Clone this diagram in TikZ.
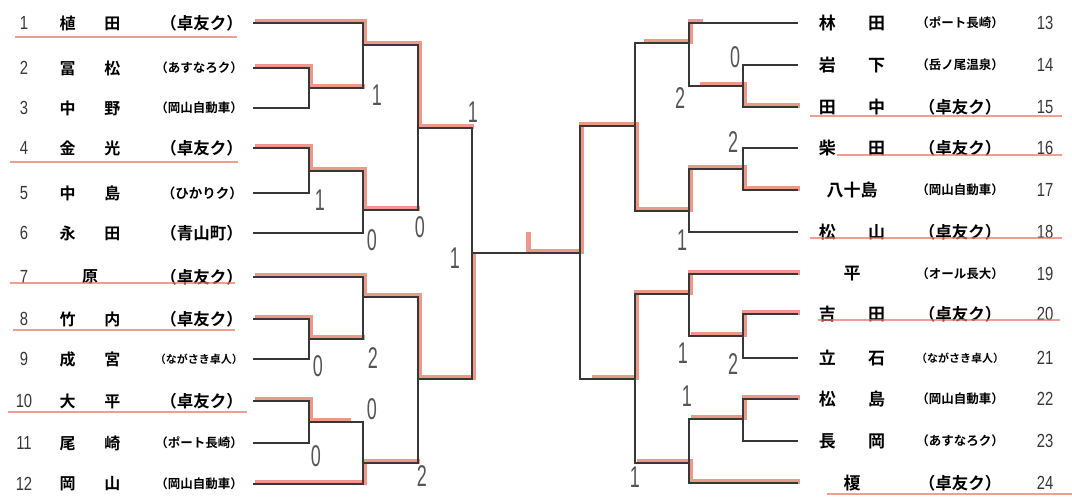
\documentclass[tikz,border=0pt]{standalone}
\usepackage{fontspec}
\usepackage{tikz}
\usetikzlibrary{calc}
\setmainfont{Noto Sans CJK JP}[BoldFont={Noto Sans CJK JP Bold}]
\newfontfamily\seedfont[FakeStretch=0.78]{Liberation Sans}
\newfontfamily\scorefont[FakeStretch=0.6]{Liberation Sans}
\definecolor{ink}{RGB}{55,55,55}
\definecolor{marker}{RGB}{232,118,98}

\begin{document}
\begin{tikzpicture}[x=1pt,y=-1pt,
  wire/.style={draw=ink,line width=1.1pt},
  win/.style={draw=marker,line width=5pt,opacity=.75,transform canvas={xshift=1.5pt,yshift=1.5pt}},
  uline/.style={draw=marker,line width=1.6pt,opacity=.7},
  seed/.style={font=\seedfont\fontsize{19}{19}\selectfont,text=ink,inner sep=0pt},
  player/.style={font=\bfseries\fontsize{16}{16}\selectfont,inner sep=0pt},
  rplayer/.style={font=\bfseries\fontsize{17}{17}\selectfont,inner sep=0pt},
  club/.style={font=\bfseries\fontsize{16.5}{16.5}\selectfont,inner sep=0pt},
  midclub/.style={font=\bfseries\fontsize{13.5}{13.5}\selectfont,inner sep=0pt},
  smallclub/.style={font=\bfseries\fontsize{12.5}{12.5}\selectfont,inner sep=0pt},
  tinyclub/.style={font=\bfseries\fontsize{11}{11}\selectfont,inner sep=0pt},
  score/.style={font=\scorefont\fontsize{30}{30}\selectfont,text=ink!85,inner sep=0pt}]
  \useasboundingbox (0,0) rectangle (1072,496);

  \foreach \i/\y/\nm/\cl/\sty in {
    1/23/{植\hspace{1.8em}田}/{（卓友ク）}/club,
    2/68/{冨\hspace{1.8em}松}/{（あすなろク）}/smallclub,
    3/108/{中\hspace{1.8em}野}/{（岡山自動車）}/smallclub,
    4/148/{金\hspace{1.8em}光}/{（卓友ク）}/club,
    5/193/{中\hspace{1.8em}島}/{（ひかりク）}/midclub,
    6/233/{永\hspace{1.8em}田}/{（青山町）}/club,
    7/277/{原}/{（卓友ク）}/club,
    8/319/{竹\hspace{1.8em}内}/{（卓友ク）}/club,
    9/359/{成\hspace{1.8em}宮}/{（ながさき卓人）}/tinyclub,
    10/401/{大\hspace{1.8em}平}/{（卓友ク）}/club,
    11/443/{尾\hspace{1.8em}崎}/{（ポート長崎）}/smallclub,
    12/484/{岡\hspace{1.8em}山}/{（岡山自動車）}/smallclub} {
    \node[seed] (n\i) at (24,\y) {\i};
    \node[player] (p\i) at (90,\y) {\nm};
    \node[\sty,anchor=east] (c\i) at (243,\y) {\cl};
    \coordinate (l\i) at (253,\y);
  }
  \foreach \i/\y/\nm/\cl/\sty in {
    13/23/{林\hspace{1.9em}田}/{（ポート長崎）}/smallclub,
    14/65/{岩\hspace{1.9em}下}/{（岳ノ尾温泉）}/smallclub,
    15/107/{田\hspace{1.9em}中}/{（卓友ク）}/club,
    16/148/{柴\hspace{1.9em}田}/{（卓友ク）}/club,
    17/190/{八十島}/{（岡山自動車）}/smallclub,
    18/232/{松\hspace{1.9em}山}/{（卓友ク）}/club,
    19/274/{平}/{（オール長大）}/smallclub,
    20/314/{吉\hspace{1.9em}田}/{（卓友ク）}/club,
    21/358/{立\hspace{1.9em}石}/{（ながさき卓人）}/tinyclub,
    22/399/{松\hspace{1.9em}島}/{（岡山自動車）}/smallclub,
    23/441/{長\hspace{1.9em}岡}/{（あすなろク）}/smallclub,
    24/483/{榎}/{（卓友ク）}/club} {
    \node[rplayer] (p\i) at (852,\y) {\nm};
    \node[\sty] (c\i) at (960,\y) {\cl};
    \node[seed] (n\i) at (1045,\y) {\i};
    \coordinate (l\i) at (798,\y);
  }

  \coordinate (a23) at (309,88);
  \coordinate (b1) at (363,45);
  \coordinate (a45) at (309,171);
  \coordinate (b2) at (363,210);
  \coordinate (c1) at (418,128);
  \coordinate (a89) at (309,339);
  \coordinate (b3) at (363,297);
  \coordinate (a1011) at (309,422);
  \coordinate (b4) at (363,463);
  \coordinate (c2) at (418,379);
  \coordinate (d1) at (472,253);
  \coordinate (tk) at (527,253);
  \coordinate (e1) at (743,86);
  \coordinate (f1) at (689,43);
  \coordinate (e2) at (743,169);
  \coordinate (f2) at (689,211);
  \coordinate (g1) at (635,126);
  \coordinate (e3) at (743,336);
  \coordinate (f3) at (689,294);
  \coordinate (e4) at (743,419);
  \coordinate (f4) at (689,463);
  \coordinate (g2) at (635,379);
  \coordinate (h1) at (580,253);

  \draw[uline] (15,37) -- (237,37);
  \draw[uline] (10,162) -- (238,162);
  \draw[uline] (10,283) -- (235,283);
  \draw[uline] (13,330) -- (235,330);
  \draw[uline] (8,412) -- (247,412);
  \draw[uline] (810,116) -- (1062,116);
  \draw[uline] (837,155) -- (1062,155);
  \draw[uline] (810,238) -- (1062,238);
  \draw[uline] (818,320) -- (1060,320);
  \draw[uline] (827,494) -- (1072,494);

  \draw[win] (l1) -| (b1) -| (c1) -- (c1 -| d1);
  \draw[win] (l2) -| (a23) -- (a23 -| b1);
  \draw[win] (l4) -| (a45) -| (b2) -- (b2 -| c1);
  \draw[win] (l7) -| (b3) -| (c2) -| (d1);
  \draw[win] (l8) -| (a89) -- (a89 -| b3);
  \draw[win] (l10) -| (a1011) -- ++(40,0);
  \draw[win] (l12) -| (b4) -- (b4 -| c2);
  \draw[win] ($(l13 -| f1)+(12,0)$) -| (f1) -- ++(-47,0);
  \draw[win] (l15) -| (e1) -- ++(-45,0);
  \draw[win] (l17) -| (e2) -| (f2) -| (g1) -| (h1) -- (tk) -- ++(0,-20);
  \draw[win] (l19) -| (f3) -| (g2) -- ++(-45,0);
  \draw[win] (l20) -| (e3) -- ++(-54,0);
  \draw[win] (l22) -| (e4) -- ++(-54,0);
  \draw[win] (l24) -| (f4) -- (f4 -| g2);

  \draw[wire] (l2) -| (a23) |- (l3);
  \draw[wire] (l1) -| (b1) |- (a23);
  \draw[wire] (l4) -| (a45) |- (l5);
  \draw[wire] (a45) -| (b2) |- (l6);
  \draw[wire] (b1) -| (c1) |- (b2);
  \draw[wire] (l8) -| (a89) |- (l9);
  \draw[wire] (l7) -| (b3) |- (a89);
  \draw[wire] (l10) -| (a1011) |- (l11);
  \draw[wire] (a1011) -| (b4) |- (l12);
  \draw[wire] (b3) -| (c2) |- (b4);
  \draw[wire] (c1) -| (d1) |- (c2);
  \draw[wire] (l14) -| (e1) |- (l15);
  \draw[wire] (l13) -| (f1) |- (e1);
  \draw[wire] (l16) -| (e2) |- (l17);
  \draw[wire] (e2) -| (f2) |- (l18);
  \draw[wire] (f1) -| (g1) |- (f2);
  \draw[wire] (l20) -| (e3) |- (l21);
  \draw[wire] (l19) -| (f3) |- (e3);
  \draw[wire] (l22) -| (e4) |- (l23);
  \draw[wire] (e4) -| (f4) |- (l24);
  \draw[wire] (f3) -| (g2) |- (f4);
  \draw[wire] (g1) -| (h1) |- (g2);
  \draw[wire] (d1) -- (h1);

  \foreach \x/\y/\v [count=\k] in {377/95/1, 320/200/1, 372/240/0, 420/227/0,
    473/112/1, 455/258/1, 318/366/0, 373/358/2, 372/409/0, 316/456/0, 422/476/2,
    735/57/0, 680/98/2, 733/142/2, 682/240/1, 683/353/1, 733/364/2, 687/396/1, 635/477/1}
    \node[score] (s\k) at (\x,\y) {\v};
\end{tikzpicture}
\end{document}
